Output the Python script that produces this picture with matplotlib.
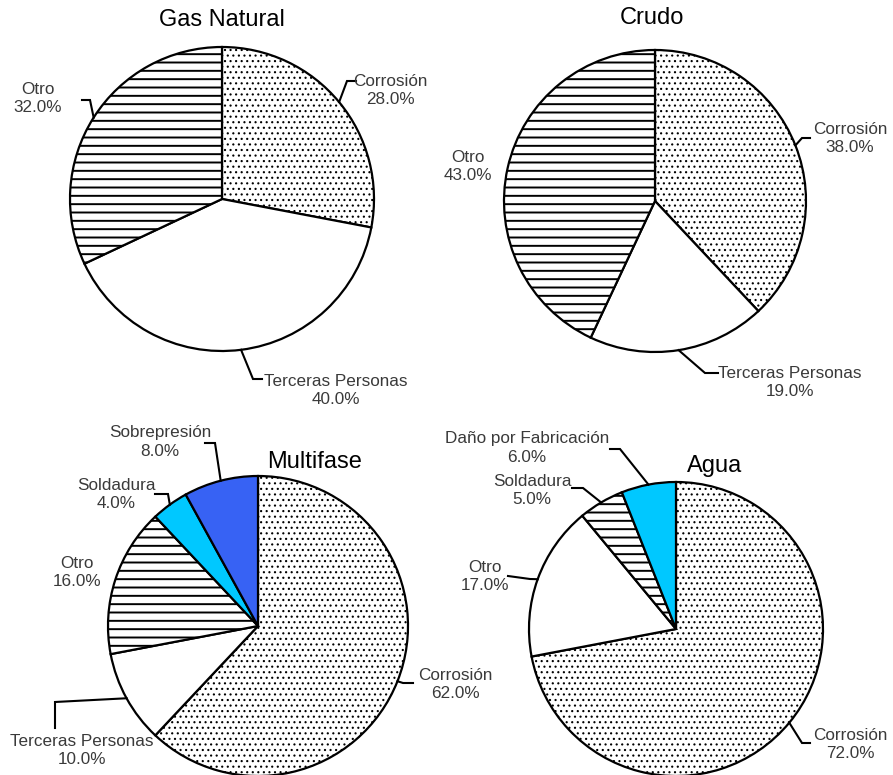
import matplotlib.pyplot as plt
import numpy as np

# data
gas_names = ['Corrosión', 'Terceras Personas', 'Otro']
gas_vals = [28, 40, 32]

crudo_names = ['Corrosión', 'Terceras Personas', 'Otro']
crudo_vals = [38, 19, 43]

multi_names = ['Corrosión', 'Terceras Personas', 'Otro', 'Soldadura', 'Sobrepresión']
multi_vals = [62, 10, 16, 4, 8]

agua_names = ['Corrosión', 'Otro', 'Soldadura', 'Daño por Fabricación']
agua_vals = [72, 17, 5, 6]

# styles: (facecolor, hatch)
DOTS = ('white', '...')
PLAIN = ('white', None)
LINES = ('white', '--')
CYAN = ('#00C8FF', None)
BLUE = ('#3762F4', None)

W, H = 893, 775
plt.rcParams['font.family'] = ['Liberation Sans', 'DejaVu Sans']
plt.rcParams['hatch.linewidth'] = 1.4

fig = plt.figure(figsize=(W / 100, H / 100), dpi=100)
ax = fig.add_axes([0, 0, 1, 1])

TXT = '#3a3a3a'


def draw_pie(title, names, vals, styles, cx, cy, r, title_xy, labels):
    # y axis is inverted, so counterclock + start at -90 reads clockwise from the top
    wedges, _ = ax.pie(vals, center=(cx, cy), radius=r, startangle=-90,
                       counterclock=True, frame=True,
                       wedgeprops=dict(edgecolor='black', linewidth=1.6))
    for w, (fc, hatch) in zip(wedges, styles):
        w.set_facecolor(fc)
        if hatch:
            w.set_hatch(hatch)
            if hatch == '...':
                try:
                    w.set_hatch_linewidth(0.8)
                except AttributeError:
                    pass
    ax.text(title_xy[0], title_xy[1], title, fontsize=17, ha='center',
            va='center', color='black')
    for w, name, v, (tx, ty, path) in zip(wedges, names, vals, labels):
        mid = (w.theta1 + w.theta2) / 2
        ex = cx + r * np.cos(np.radians(mid))
        ey = cy + r * np.sin(np.radians(mid))
        if path:
            xs = [ex] + [p[0] for p in path]
            ys = [ey] + [p[1] for p in path]
            ax.plot(xs, ys, color='black', lw=1.5, solid_joinstyle='miter')
        ax.text(tx, ty, f'{name}\n{v:.1f}%', fontsize=12.3, ha='center',
                va='center', color=TXT, linespacing=1.25)


draw_pie('Gas Natural', gas_names, gas_vals, [DOTS, PLAIN, LINES],
         222, 199, 152, (222, 20),
         [(390, 90, [(347, 81), (356, 81)]),
          (336, 391, [(253, 379), (262, 379)]),
          (38, 98, [(90, 100), (82, 100)])])

draw_pie('Crudo', crudo_names, crudo_vals, [DOTS, PLAIN, LINES],
         655, 201, 151, (652, 18),
         [(850, 138, [(802, 138), (810, 138)]),
          (790, 383, [(705, 373), (718, 373)]),
          (468, 166, [])])

draw_pie('Multifase', multi_names, multi_vals, [DOTS, PLAIN, LINES, CYAN, BLUE],
         258, 626, 150, (315, 462),
         [(455, 684, [(403, 683), (413, 683)]),
          (82, 750, [(55, 702), (55, 728)]),
          (77, 573, []),
          (116, 494, [(168, 494), (155, 494)]),
          (160, 442, [(215, 443), (205, 443)])])

draw_pie('Agua', agua_names, agua_vals, [DOTS, PLAIN, LINES, CYAN],
         676, 629, 147, (715, 466),
         [(850, 744, [(802, 743), (810, 743)]),
          (485, 576, [(530, 579), (508, 576)]),
          (532, 490, [(583, 488), (572, 488)]),
          (527, 448, [(620, 449), (610, 449)])])

ax.set_xlim(0, W)
ax.set_ylim(H, 0)
ax.set_aspect('equal')
ax.axis('off')

fig.savefig('out.png', dpi=100)
